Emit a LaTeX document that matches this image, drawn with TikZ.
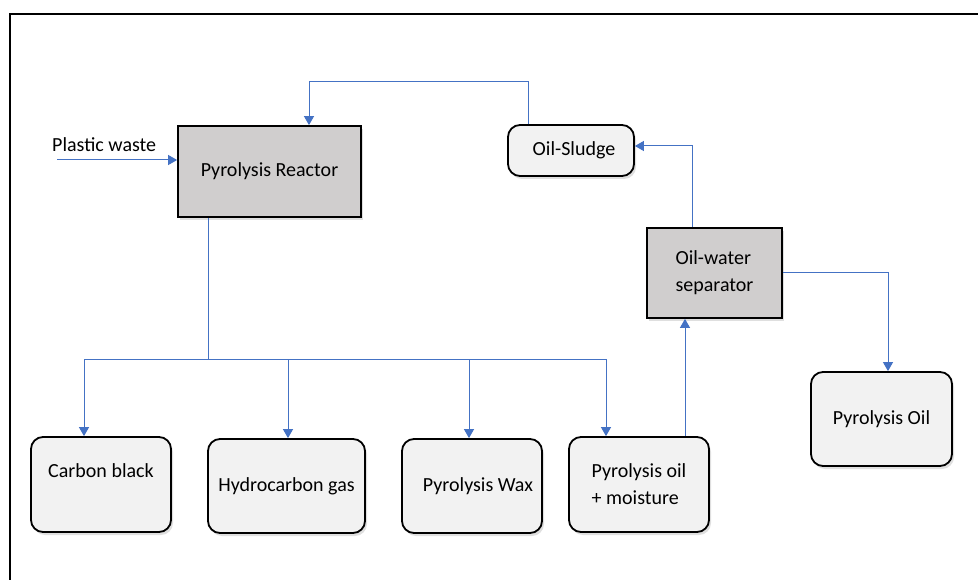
\documentclass[tikz,border=0pt]{standalone}
\usepackage{fontspec}
\setmainfont{Carlito}
\usetikzlibrary{arrows.meta,shadows}
\definecolor{boxgray}{HTML}{D0CECE}
\definecolor{boxlight}{HTML}{F2F2F2}
\definecolor{linkblue}{HTML}{4472C4}
\tikzset{
  base/.style={draw=black, line width=1.8pt, inner sep=0pt, align=left,
    font=\fontsize{20}{27}\selectfont,
    drop shadow={opacity=0.25, shadow xshift=2pt, shadow yshift=-3pt}},
  graybox/.style={base, fill=boxgray},
  roundbox/.style={base, fill=boxlight, rounded corners=12pt},
  arr/.style={draw=linkblue, line width=1pt, -{Triangle[length=9pt,width=10pt]}},
  plain/.style={draw=linkblue, line width=1pt},
  lbl/.style={font=\fontsize{20}{27}\selectfont, inner sep=0pt}
}
\begin{document}
\begin{tikzpicture}[x=1pt,y=-1pt]
\useasboundingbox (0,0) rectangle (978,580);
\fill[white] (0,0) rectangle (978,580);
\draw[line width=2pt] (9.5,580) -- (9.5,14) -- (978,14);

\node[graybox, minimum width=183pt, minimum height=91pt] (reactor) at (269.5,171.5) {Pyrolysis Reactor};
\node[roundbox, minimum width=126pt, minimum height=51pt] (sludge) at (571,150.5) {\hspace*{6pt}Oil-Sludge};
\node[graybox, minimum width=135pt, minimum height=90pt] (sep) at (714.5,273) {Oil-water\\separator};
\node[roundbox, minimum width=141pt, minimum height=94pt] (pyoil) at (881.5,419) {Pyrolysis Oil};
\node[roundbox, minimum width=140pt, minimum height=95pt] (carbon) at (101,484.5) {Carbon black\\\mbox{}};
\node[roundbox, minimum width=157pt, minimum height=94pt] (hydro) at (286.5,486) {Hydrocarbon gas};
\node[roundbox, minimum width=140pt, minimum height=94pt] (wax) at (472,486) {\hspace*{12pt}Pyrolysis Wax};
\node[roundbox, minimum width=140pt, minimum height=95pt] (moist) at (639,484.5) {Pyrolysis oil\\+ moisture};

\node[lbl, anchor=base west] (pwlabel) at (52,152) {Plastic waste};

\coordinate (pw) at (57,160);
\draw[arr] (pw) -- (pw -| reactor.west);

\coordinate (bus) at (208,359);
\coordinate (b1) at (84,359);
\coordinate (b2) at (288,359);
\coordinate (b3) at (469,359);
\coordinate (b4) at (606,359);
\draw[plain] (reactor.south -| bus) -- (bus);
\draw[plain] (b1) -- (b4);
\draw[arr] (b1) -- (carbon.north -| b1);
\draw[arr] (b2) -- (hydro.north -| b2);
\draw[arr] (b3) -- (wax.north -| b3);
\draw[arr] (b4) -- (moist.north -| b4);

\coordinate (m1) at (685,437);
\draw[arr] (moist.north -| m1) -- (sep.south -| m1);

\coordinate (s1) at (692,146);
\draw[arr] (sep.north -| s1) -- (s1) -- (sludge.east |- s1);

\coordinate (t1) at (528,82);
\coordinate (t2) at (309,82);
\draw[arr] (sludge.north -| t1) -- (t1) -- (t2) -- (reactor.north -| t2);

\coordinate (r1) at (888,273);
\draw[arr] (sep.east |- r1) -- (r1) -- (pyoil.north -| r1);
\end{tikzpicture}
\end{document}
